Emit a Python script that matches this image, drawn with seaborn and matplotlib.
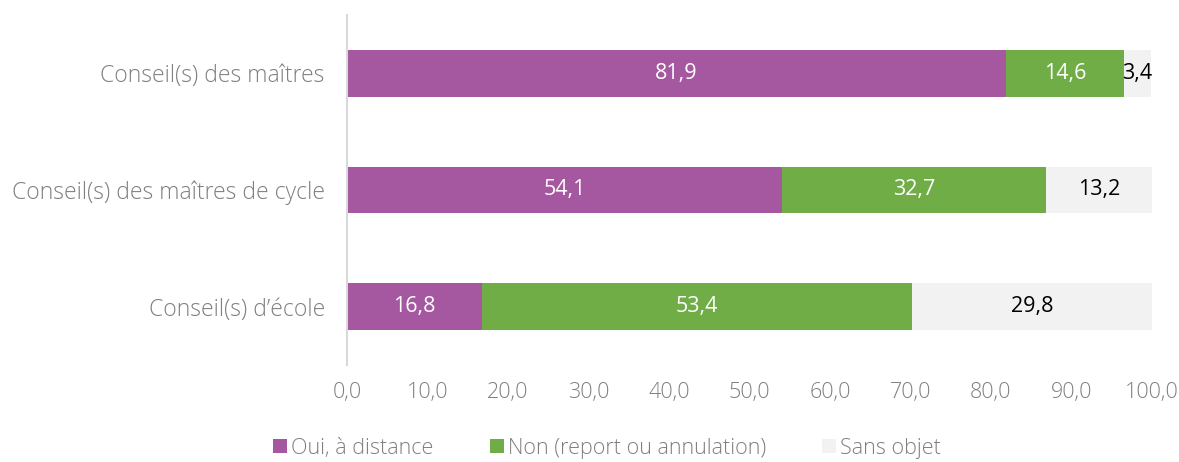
import matplotlib
matplotlib.use("Agg")
import matplotlib.pyplot as plt
from matplotlib.patches import Patch
import numpy as np
import pandas as pd
import seaborn as sns

categories = ["Conseil(s) des maîtres", "Conseil(s) des maîtres de cycle", "Conseil(s) d\u2019école"]
oui = [81.9, 54.1, 16.8]
non = [14.6, 32.7, 53.4]
sans = [3.4, 13.2, 29.8]
series_names = ["Oui, à distance", "Non (report ou annulation)", "Sans objet"]
colors = ["#A5579F", "#70AD47", "#F2F2F2"]
text_colors = ["white", "white", "black"]

sns.set_theme(style="white")
plt.rcParams["font.family"] = ["Open Sans", "DejaVu Sans"]
plt.rcParams["font.weight"] = "light"

values = np.array([oui, non, sans])
cum = values.cumsum(axis=0)

fig = plt.figure(figsize=(11.79, 4.62), dpi=100)
ax = fig.add_axes([0.2943, 0.21, 0.6827, 0.7575])

# draw from the longest cumulative bar to the shortest so each layer shows
for i in range(2, -1, -1):
    df = pd.DataFrame({"cat": categories, "val": cum[i]})
    sns.barplot(data=df, x="val", y="cat", orient="h", color=colors[i],
                saturation=1, width=0.4, ax=ax, linewidth=0)

for i in range(3):
    left = cum[i] - values[i]
    for j in range(3):
        ax.text(left[j] + values[i][j] / 2, j, f"{values[i][j]:.1f}".replace(".", ","),
                ha="center", va="center", color=text_colors[i], fontsize=15.5,
                fontweight="normal")

ax.set_xlim(0, 100)
ax.set_ylim(2.5, -0.5)
ax.set_xticks(np.arange(0, 101, 10))
ax.set_xticklabels([f"{v:.1f}".replace(".", ",") for v in np.arange(0, 101, 10)])
ax.set_xlabel("")
ax.set_ylabel("")
ax.tick_params(axis="x", colors="#7F7F7F", labelsize=15.5, length=0, pad=12)
ax.tick_params(axis="y", colors="#7F7F7F", labelsize=16.5, length=0, pad=16)
for s in ["top", "right", "bottom"]:
    ax.spines[s].set_visible(False)
ax.spines["left"].set_color("#D9D9D9")
ax.spines["left"].set_linewidth(1.5)

handles = [Patch(facecolor=c, edgecolor="none") for c in colors]
fig.legend(handles, series_names, loc="lower center", bbox_to_anchor=(0.515, -0.035),
           ncol=3, frameon=False, fontsize=15.5, handlelength=0.65, handleheight=0.65,
           handletextpad=0.2, columnspacing=2.6, labelcolor="#7F7F7F")

fig.savefig("out.png", dpi=100)
